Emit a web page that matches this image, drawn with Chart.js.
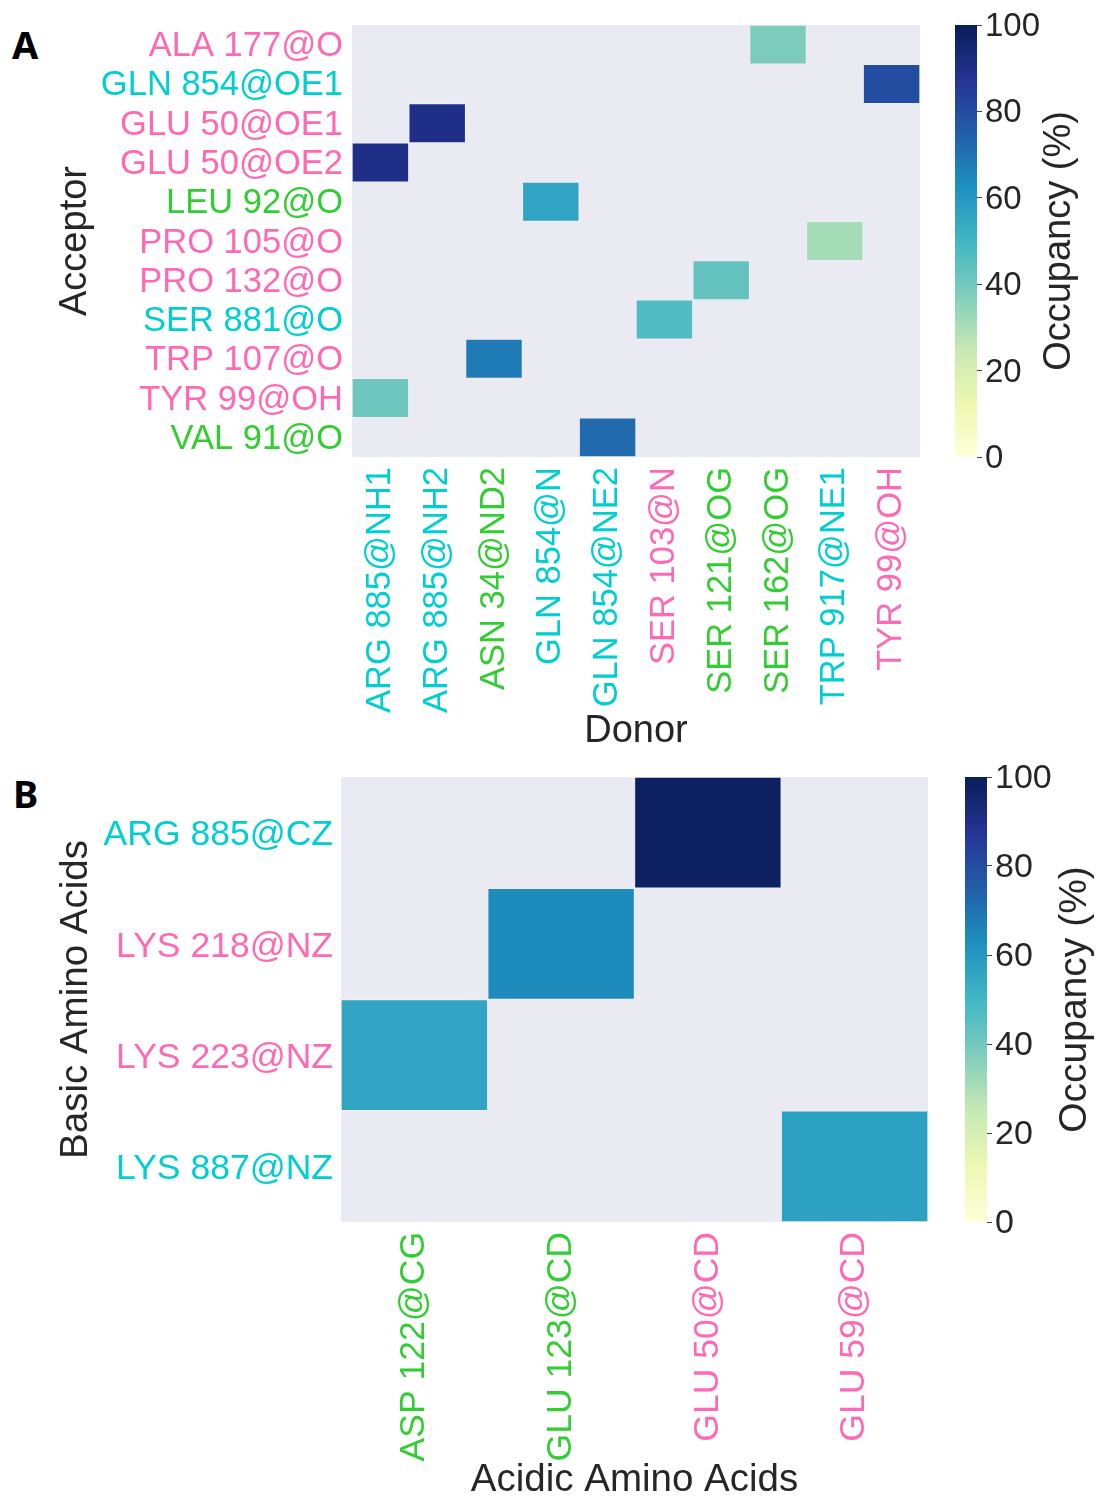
<!DOCTYPE html>
<html><head><meta charset="utf-8">
<script src="https://cdn.jsdelivr.net/npm/chart.js@4/dist/chart.umd.min.js"></script>
<style>
html,body{margin:0;padding:0;background:#fff;width:1099px;height:1501px;overflow:hidden;position:relative}
canvas{position:absolute;display:block}
.lbl{position:absolute;font-family:'Noto Sans',sans-serif;font-weight:700;font-size:38px;line-height:38px;color:#000}
</style></head><body>
<div class="lbl" style="left:12px;top:25px">A</div>
<div class="lbl" style="left:13px;top:774px">B</div>
<canvas id="hA" width="940" height="760" style="left:0;top:0"></canvas>
<canvas id="cA" width="159" height="760" style="left:940px;top:0"></canvas>
<canvas id="hB" width="940" height="741" style="left:0;top:760px"></canvas>
<canvas id="cB" width="159" height="741" style="left:940px;top:760px"></canvas>
<script>
// ---- Data ----
const PINK = '#ff69b4', CYAN = '#00ced1', GREEN = '#32cd32';

const acceptorsA = ['ALA 177@O','GLN 854@OE1','GLU 50@OE1','GLU 50@OE2','LEU 92@O','PRO 105@O','PRO 132@O','SER 881@O','TRP 107@O','TYR 99@OH','VAL 91@O'];
const acceptorColorsA = [PINK, CYAN, PINK, PINK, GREEN, PINK, PINK, CYAN, PINK, PINK, GREEN];
const donorsA = ['ARG 885@NH1','ARG 885@NH2','ASN 34@ND2','GLN 854@N','GLN 854@NE2','SER 103@N','SER 121@OG','SER 162@OG','TRP 917@NE1','TYR 99@OH'];
const donorColorsA = [CYAN, CYAN, GREEN, CYAN, CYAN, PINK, GREEN, GREEN, CYAN, PINK];
// donor paired with each acceptor (row order) and its occupancy (%)
const pairDonorA = ['SER 162@OG','TYR 99@OH','ARG 885@NH2','ARG 885@NH1','GLN 854@N','TRP 917@NE1','SER 121@OG','SER 103@N','ASN 34@ND2','ARG 885@NH1','GLN 854@NE2'];
const occupancyA = [38, 80, 90, 90, 56, 31, 43, 47, 68, 41, 72];

const basicB = ['ARG 885@CZ','LYS 218@NZ','LYS 223@NZ','LYS 887@NZ'];
const basicColorsB = [CYAN, PINK, PINK, CYAN];
const acidicB = ['ASP 122@CG','GLU 123@CD','GLU 50@CD','GLU 59@CD'];
const acidicColorsB = [GREEN, GREEN, PINK, PINK];
const pairAcidicB = ['GLU 50@CD','GLU 123@CD','ASP 122@CG','GLU 59@CD'];
const occupancyB = [98, 64, 56, 57];

const colorbarTicks = [0, 20, 40, 60, 80, 100];
const YLGNBU = ['#ffffd9','#edf8b1','#c7e9b4','#7fcdbb','#41b6c4','#1d91c0','#225ea8','#253494','#081d58'];

// ---- Helpers ----
const FAM = "'Liberation Sans', Arial, sans-serif";
const TXT = '#262626';
function hex2rgb(h){return [parseInt(h.substr(1,2),16),parseInt(h.substr(3,2),16),parseInt(h.substr(5,2),16)];}
function ylgnbu(t){
  t = Math.max(0, Math.min(1, t));
  const p = t * (YLGNBU.length - 1), i = Math.min(Math.floor(p), YLGNBU.length - 2), f = p - i;
  const a = hex2rgb(YLGNBU[i]), b = hex2rgb(YLGNBU[i+1]);
  return 'rgb(' + a.map((v,k)=>Math.round(v + (b[k]-v)*f)).join(',') + ')';
}
const bgPlugin = {
  id: 'bg',
  beforeDatasetsDraw(chart){
    const a = chart.chartArea, c = chart.ctx;
    c.save(); c.fillStyle = '#eaeaf2'; c.fillRect(a.left, a.top, a.right - a.left, a.bottom - a.top); c.restore();
  }
};
function noPad(s){ s.paddingTop = 0; s.paddingBottom = 0; s.paddingLeft = 0; s.paddingRight = 0; }

function heatmap(id, rows, rowColors, cols, colColors, pairCol, values, o){
  const data = rows.map((r,i)=>{ const c = cols.indexOf(pairCol[i]); return [c, c + 1]; });
  return new Chart(document.getElementById(id), {
    type: 'bar',
    data: { labels: rows, datasets: [{
      data,
      backgroundColor: ctx => ylgnbu(values[ctx.dataIndex] / 100),
      borderColor: 'rgba(255,255,255,0.25)', borderWidth: 1, borderSkipped: false,
      barPercentage: 1, categoryPercentage: 1
    }]},
    options: {
      indexAxis: 'y', responsive: false, animation: false, devicePixelRatio: 1,
      layout: { padding: o.padding },
      plugins: { legend: { display: false }, tooltip: { enabled: false } },
      scales: {
        y: {
          type: 'category',
          grid: { display: false, drawTicks: false }, border: { display: false },
          ticks: { color: ctx => rowColors[ctx.index], font: { family: FAM, size: o.tick }, padding: o.ypad, autoSkip: false, labelOffset: o.yoff },
          title: { display: true, text: o.ytitle, color: TXT, font: { family: FAM, size: o.title, lineHeight: 1 }, padding: { top: o.ytp, bottom: 0 } },
          afterFit: s => { s.width = o.yw; noPad(s); }
        },
        x: {
          type: 'linear', min: 0, max: cols.length,
          grid: { display: false, drawTicks: false }, border: { display: false },
          afterBuildTicks: s => { s.ticks = cols.map((c,i)=>({ value: i + 0.5 })); },
          ticks: { callback: (v,i)=>cols[i], color: ctx => colColors[ctx.index], minRotation: 90, maxRotation: 90, autoSkip: false,
                   padding: o.xpad, font: { family: FAM, size: o.tick } },
          title: { display: true, text: o.xtitle, color: TXT, font: { family: FAM, size: o.title, lineHeight: 1 }, padding: { top: 0, bottom: o.xtp } },
          afterFit: s => { s.height = o.xh; noPad(s); }
        }
      }
    },
    plugins: [bgPlugin]
  });
}

function colorbar(id, o){
  const titlePlugin = {
    id: 'cbtitle',
    afterDraw(chart){
      const a = chart.chartArea, c = chart.ctx;
      c.save();
      c.translate(o.titleX, (a.top + a.bottom) / 2);
      c.rotate(-Math.PI / 2);
      c.font = o.title + 'px ' + FAM; c.fillStyle = TXT; c.textAlign = 'center'; c.textBaseline = 'middle';
      c.fillText('Occupancy (%)', 0, 0);
      c.restore();
    }
  };
  return new Chart(document.getElementById(id), {
    type: 'bar',
    data: { labels: [''], datasets: [{
      data: [[colorbarTicks[0], colorbarTicks[colorbarTicks.length - 1]]],
      backgroundColor: ctx => {
        const ch = ctx.chart; if (!ch.chartArea) return YLGNBU[4];
        const y = ch.scales.y;
        const g = ch.ctx.createLinearGradient(0, y.getPixelForValue(0), 0, y.getPixelForValue(100));
        for (let k = 0; k <= 40; k++) g.addColorStop(k / 40, ylgnbu(k / 40));
        return g;
      },
      borderWidth: 0, barPercentage: 1, categoryPercentage: 1
    }]},
    options: {
      responsive: false, animation: false, devicePixelRatio: 1,
      layout: { padding: o.padding },
      plugins: { legend: { display: false }, tooltip: { enabled: false } },
      scales: {
        x: { display: false },
        y: {
          position: 'right', min: 0, max: 100,
          afterBuildTicks: s => { s.ticks = colorbarTicks.map(v=>({ value: v })); },
          grid: { drawOnChartArea: false, drawTicks: true, tickLength: 5, color: '#444', lineWidth: 1 },
          border: { display: false },
          ticks: { color: TXT, font: { family: FAM, size: o.tick, lineHeight: 0.9 }, padding: 3, labelOffset: 2 },
          afterFit: s => { s.width = o.yw; noPad(s); }
        }
      }
    },
    plugins: [titlePlugin]
  });
}

heatmap('hA', acceptorsA, acceptorColorsA, donorsA, donorColorsA, pairDonorA, occupancyA, {
  padding: { top: 25, right: 20, left: 0, bottom: 0 },
  yw: 352, xh: 303, tick: 34.5, title: 38, ypad: 9, xpad: 10, ytp: 57, xtp: 9, yoff: 2,
  ytitle: 'Acceptor', xtitle: 'Donor'
});
colorbar('cA', { padding: { top: 25, bottom: 303, left: 15, right: 0 }, yw: 122, tick: 33, title: 38, titleX: 120 });

heatmap('hB', basicB, basicColorsB, acidicB, acidicColorsB, pairAcidicB, occupancyB, {
  padding: { top: 17, right: 12, left: 0, bottom: 0 },
  yw: 341, xh: 279, tick: 35.5, title: 38.5, ypad: 8, xpad: 10, ytp: 57, xtp: 1, yoff: 3,
  ytitle: 'Basic Amino Acids', xtitle: 'Acidic Amino Acids'
});
colorbar('cB', { padding: { top: 17, bottom: 279, left: 25, right: 0 }, yw: 112, tick: 34, title: 39, titleX: 135 });
</script>
</body></html>
